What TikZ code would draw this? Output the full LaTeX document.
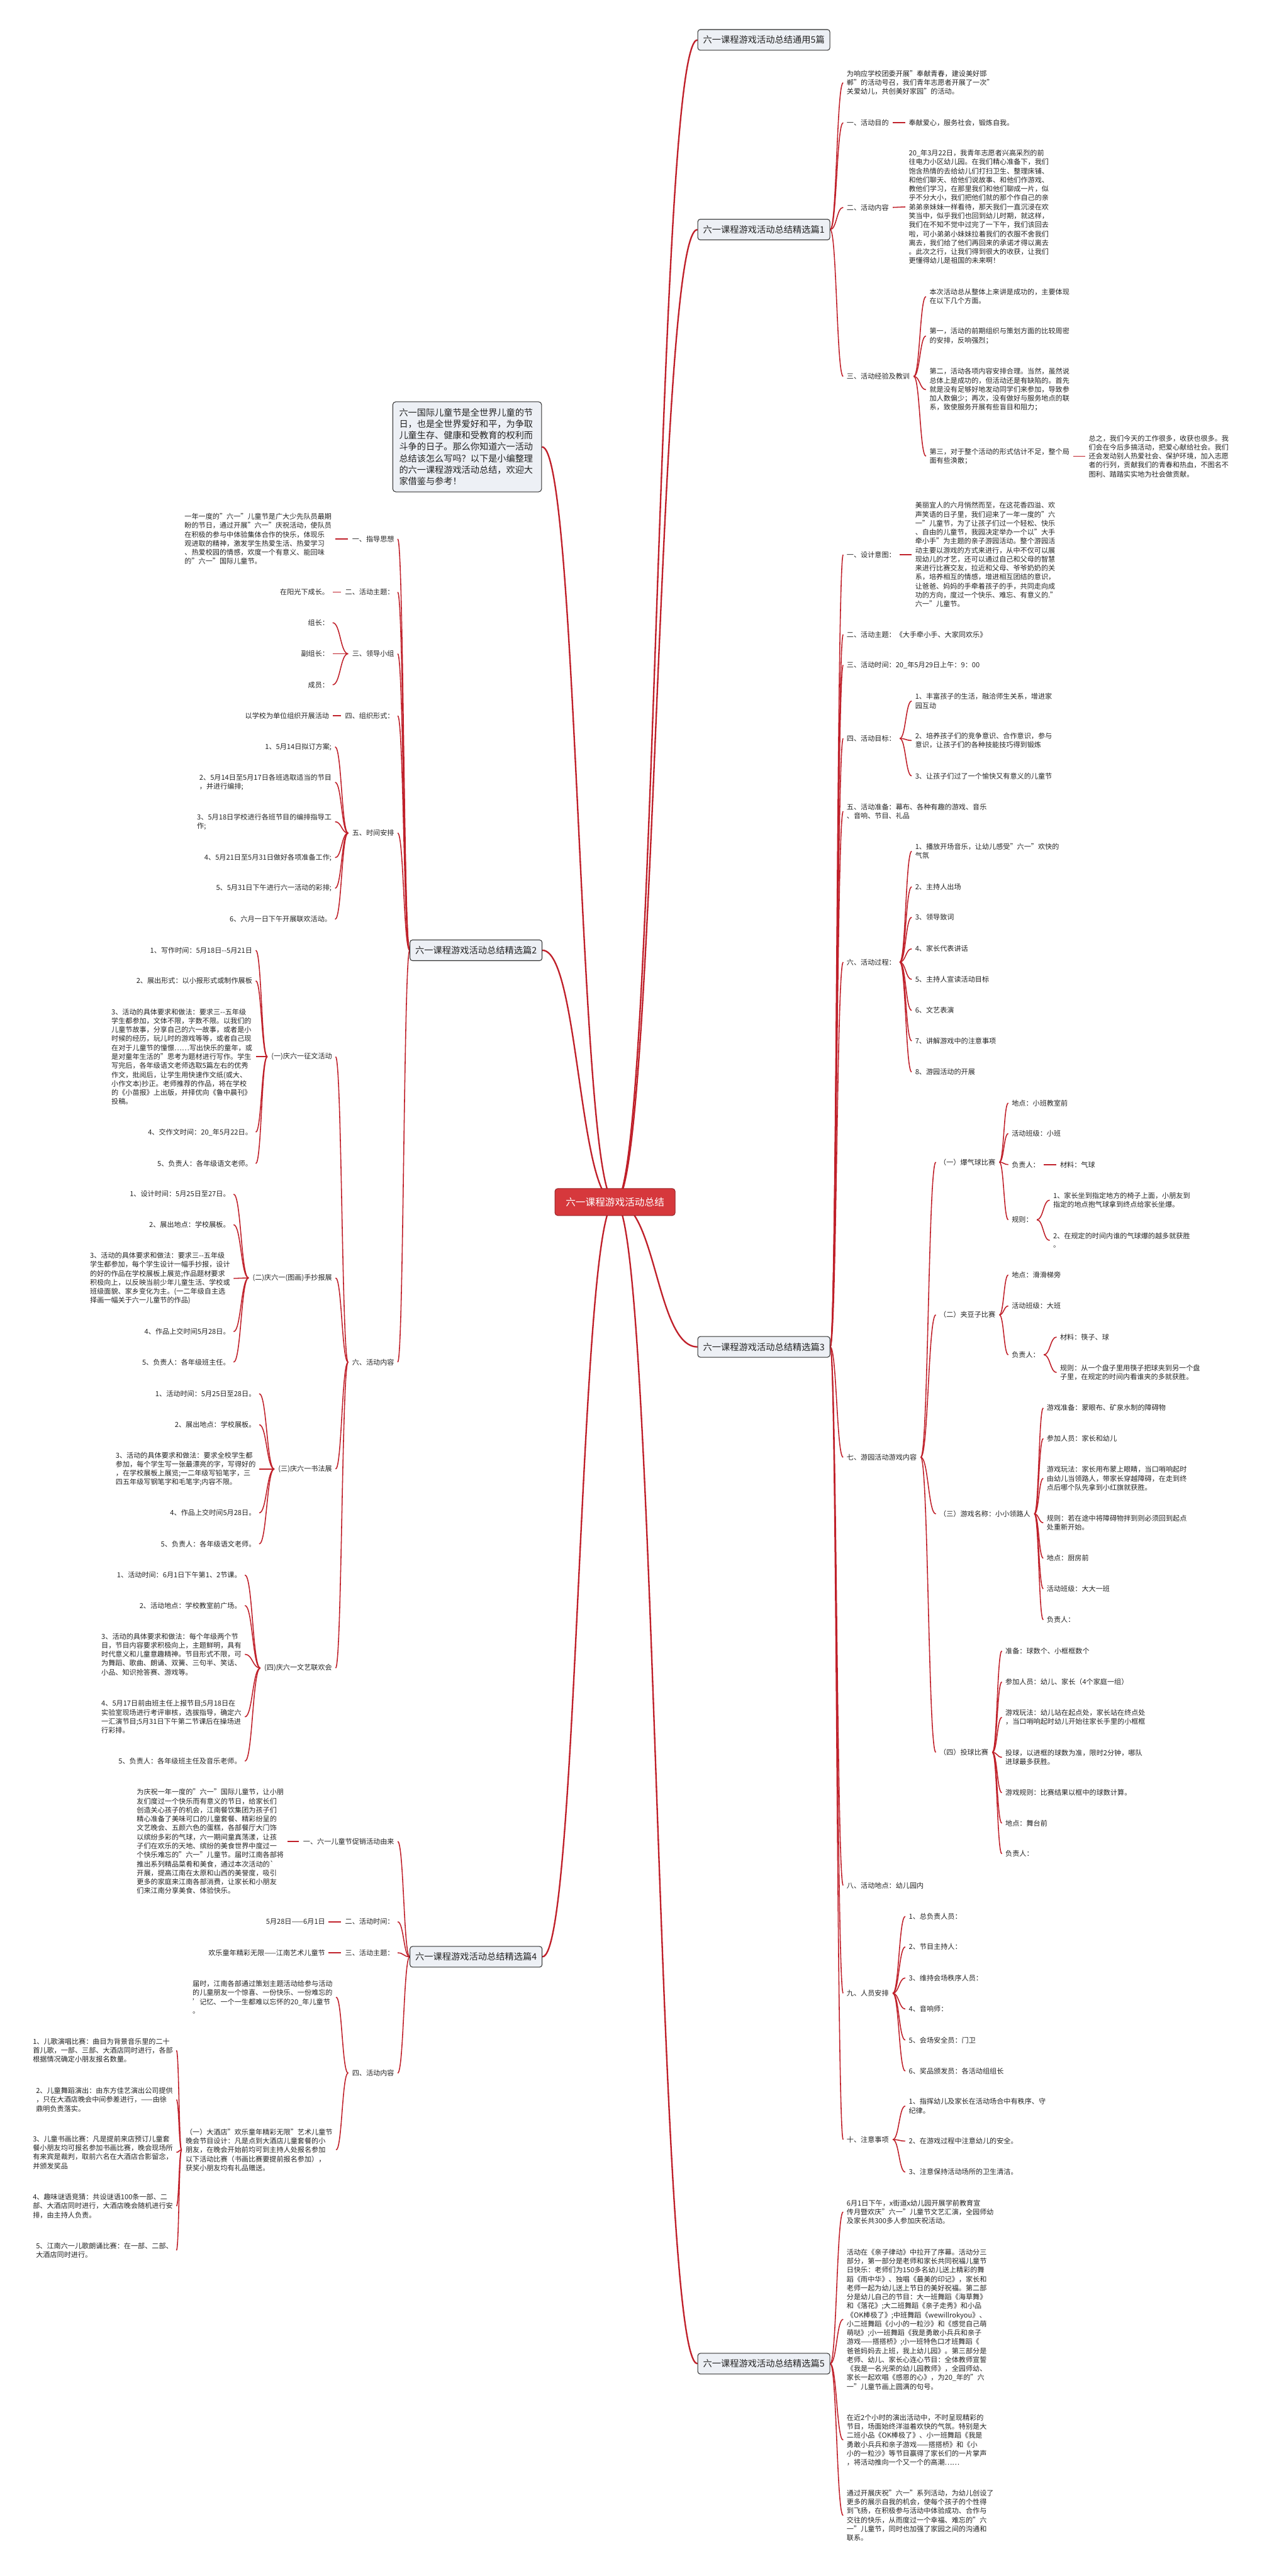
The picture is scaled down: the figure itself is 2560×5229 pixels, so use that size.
\documentclass[tikz,border=0pt]{standalone}
\usepackage{fontspec}
\setmainfont{Noto Sans CJK SC}
\usetikzlibrary{calc}
\pgfdeclarelayer{back}
\pgfdeclarelayer{bg}
\pgfsetlayers{back,bg,main}
\definecolor{lnk}{RGB}{192,32,42}
\definecolor{boxfill}{RGB}{237,240,245}
\definecolor{boxline}{RGB}{45,45,45}
\definecolor{cfill}{RGB}{214,56,60}
\definecolor{cline}{RGB}{150,35,40}
\definecolor{txt}{RGB}{35,35,35}
\tikzset{
 tx/.style={inner sep=0pt, anchor=west, align=left, font=\fontsize{14.2}{18.2}\selectfont, text=txt},
 txl/.style={tx, anchor=east},
 mainbox/.style={draw=boxline, fill=boxfill, rounded corners=5pt, line width=1.3pt, minimum width=268pt, minimum height=42pt, inner sep=0pt, font=\fontsize{18.2}{22}\selectfont, text=txt},
 centerbox/.style={draw=cline, fill=cfill, rounded corners=6pt, line width=1.3pt, minimum width=244pt, minimum height=55pt, inner sep=0pt, font=\fontsize{20}{24}\selectfont, text=white},
 introbox/.style={draw=boxline, fill=boxfill, rounded corners=6pt, line width=1.3pt, text width=276pt, inner xsep=13pt, inner ysep=13pt, align=left, font=\fontsize{18.1}{23.3}\selectfont, text=txt},
 conn/.style={draw=lnk, line width=2pt},
 mconn/.style={draw=lnk, line width=3pt},
}
\newcommand\linkR[3][8]{\path ($(#2.east)+(#1pt,0pt)$) coordinate (ls) ($(#3.west)+(-7pt,0pt)$) coordinate (lt);
 \draw[conn] (ls) .. controls ($(ls)!0.5!(ls -| lt)$) and ($(lt)!0.5!(lt -| ls)$) .. (lt);}
\newcommand\linkL[3][8]{\path ($(#2.west)+(-#1pt,0pt)$) coordinate (ls) ($(#3.east)+(7pt,0pt)$) coordinate (lt);
 \draw[conn] (ls) .. controls ($(ls)!0.5!(ls -| lt)$) and ($(lt)!0.5!(lt -| ls)$) .. (lt);}
\newcommand\linkM[2]{\path (#1.center) coordinate (ls) (#2) coordinate (lt);
 \draw[mconn] (ls) .. controls ($(ls)!0.5!(ls -| lt)$) and ($(lt)!0.5!(lt -| ls)$) .. (lt);}
\begin{document}
\begin{tikzpicture}[x=1pt,y=-1pt]
\begin{pgfonlayer}{back}
\fill[white] (0,0) rectangle (2560,5229);
\end{pgfonlayer}
\useasboundingbox (0,0) rectangle (2560,5229);
% ---------------- main nodes
\node[centerbox] (c) at (1248,2440) {六一课程游戏活动总结};
\node[introbox] (intro) at (948,907) {六一国际儿童节是全世界儿童的节\\日，也是全世界爱好和平，为争取\\儿童生存、健康和受教育的权利而\\斗争的日子。那么你知道六一活动\\总结该怎么写吗？以下是小编整理\\的六一课程游戏活动总结，欢迎大\\家借鉴与参考！};
\node[mainbox] (r1) at (1550,81) {六一课程游戏活动总结通用5篇};
\node[mainbox] (r2) at (1550,466) {六一课程游戏活动总结精选篇1};
\node[mainbox] (r3) at (1550,2734) {六一课程游戏活动总结精选篇3};
\node[mainbox] (r5) at (1550,4798) {六一课程游戏活动总结精选篇5};
\node[mainbox] (l2) at (966,1929) {六一课程游戏活动总结精选篇2};
\node[mainbox] (l4) at (966,3972) {六一课程游戏活动总结精选篇4};
% ---------------- 篇1
\node[tx] (a0) at (1718,168) {为响应学校团委开展"奉献青春，建设美好邯\\郸"的活动号召，我们青年志愿者开展了一次"\\关爱幼儿，共创美好家园"的活动。};
\node[tx] (a1) at (1718,249) {一、活动目的};
\node[tx] (a1a) at (1844,249) {奉献爱心，服务社会，锻炼自我。};
\node[tx] (a2) at (1718,421) {二、活动内容};
\node[tx] (a2a) at (1844,420) {20\_年3月22日，我青年志愿者兴高采烈的前\\往电力小区幼儿园。在我们精心准备下，我们\\饱含热情的去给幼儿们打扫卫生、整理床铺、\\和他们聊天、给他们说故事、和他们作游戏、\\教他们学习，在那里我们和他们聊成一片，似\\乎不分大小，我们把他们就的那个作自己的亲\\弟弟亲妹妹一样看待，那天我们一直沉浸在欢\\笑当中，似乎我们也回到幼儿时期，就这样，\\我们在不知不觉中过完了一下午，我们该回去\\啦，可小弟弟小妹妹拉着我们的衣服不舍我们\\离去，我们给了他们再回来的承诺才得以离去\\。此次之行，让我们得到很大的收获，让我们\\更懂得幼儿是祖国的未来啊！};
\node[tx] (a3) at (1718,764) {三、活动经验及教训};
\node[tx] (a3a) at (1886,602) {本次活动总从整体上来讲是成功的，主要体现\\在以下几个方面。};
\node[tx] (a3b) at (1886,682) {第一，活动的前期组织与策划方面的比较周密\\的安排，反响强烈；};
\node[tx] (a3c) at (1886,791) {第二，活动各项内容安排合理。当然，虽然说\\总体上是成功的，但活动还是有缺陷的。首先\\就是没有足够好地发动同学们来参加，导致参\\加人数偏少；再次，没有做好与服务地点的联\\系，致使服务开展有些盲目和阻力；};
\node[tx] (a3d) at (1886,926) {第三，对于整个活动的形式估计不足，整个局\\面有些涣散；};
\node[tx] (a3d1) at (2209,926) {总之，我们今天的工作很多，收获也很多。我\\们会在今后多搞活动，把爱心献给社会。我们\\还会发动别人热爱社会、保护环境，加入志愿\\者的行列，贡献我们的青春和热血，不图名不\\图利、踏踏实实地为社会做贡献。};
% ---------------- 篇3
\node[tx] (b1) at (1718,1126) {一、设计意图：};
\node[tx] (b1a) at (1857,1126) {美丽宜人的六月悄然而至，在这花香四溢、欢\\声笑语的日子里，我们迎来了一年一度的"六\\一"儿童节，为了让孩子们过一个轻松、快乐\\、自由的儿童节，我园决定举办一个以"大手\\牵小手"为主题的亲子游园活动。整个游园活\\动主要以游戏的方式来进行，从中不仅可以展\\现幼儿的才艺，还可以通过自己和父母的智慧\\来进行比赛交友，拉近和父母、爷爷奶奶的关\\系，培养相互的情感，增进相互团结的意识，\\让爸爸、妈妈的手牵着孩子的手，共同走向成\\功的方向，度过一个快乐、难忘、有意义的."\\六一"儿童节。};
\node[tx] (b2) at (1718,1288) {二、活动主题：《大手牵小手、大家同欢乐》};
\node[tx] (b3) at (1718,1350) {三、活动时间：20\_年5月29日上午：9：00};
\node[tx] (b4) at (1718,1499) {四、活动目标：};
\node[tx] (b4a) at (1857,1423) {1、丰富孩子的生活，融洽师生关系，增进家\\园互动};
\node[tx] (b4b) at (1857,1503) {2、培养孩子们的竞争意识、合作意识，参与\\意识，让孩子们的各种技能技巧得到锻炼};
\node[tx] (b4c) at (1857,1575) {3、让孩子们过了一个愉快又有意义的儿童节};
\node[tx] (b5) at (1718,1647) {五、活动准备：幕布、各种有趣的游戏、音乐\\、音响、节目、礼品};
\node[tx] (b6) at (1718,1953) {六、活动过程：};
\node[tx] (b6a) at (1857,1728) {1、播放开场音乐，让幼儿感受"六一"欢快的\\气氛};
\node[tx] (b6b) at (1857,1800) {2、主持人出场};
\node[tx] (b6c) at (1857,1862) {3、领导致词};
\node[tx] (b6d) at (1857,1926) {4、家长代表讲话};
\node[tx] (b6e) at (1857,1988) {5、主持人宣读活动目标};
\node[tx] (b6f) at (1857,2051) {6、文艺表演};
\node[tx] (b6g) at (1857,2113) {7、讲解游戏中的注意事项};
\node[tx] (b6h) at (1857,2176) {8、游园活动的开展};
\node[tx] (b7) at (1718,2958) {七、游园活动游戏内容};
\node[tx] (b7a) at (1906,2359) {（一）爆气球比赛};
\node[tx] (b7a1) at (2053,2239) {地点：小班教室前};
\node[tx] (b7a2) at (2053,2301) {活动班级：小班};
\node[tx] (b7a3) at (2053,2364) {负责人：};
\node[tx] (b7a3a) at (2151,2364) {材料：气球};
\node[tx] (b7a4) at (2053,2476) {规则：};
\node[tx] (b7a4a) at (2137,2436) {1、家长坐到指定地方的椅子上面，小朋友到\\指定的地点抱气球拿到终点给家长坐爆。};
\node[tx] (b7a4b) at (2137,2518) {2、在规定的时间内谁的气球爆的越多就获胜\\。};
\node[tx] (b7b) at (1906,2669) {（二）夹豆子比赛};
\node[tx] (b7b1) at (2053,2588) {地点：滑滑梯旁};
\node[tx] (b7b2) at (2053,2651) {活动班级：大班};
\node[tx] (b7b3) at (2053,2750) {负责人：};
\node[tx] (b7b3a) at (2151,2714) {材料：筷子、球};
\node[tx] (b7b3b) at (2151,2786) {规则：从一个盘子里用筷子把球夹到另一个盘\\子里，在规定的时间内看谁夹的多就获胜。};
\node[tx] (b7c) at (1906,3073) {（三）游戏名称：小小领路人};
\node[tx] (b7c1) at (2124,2858) {游戏准备：蒙眼布、矿泉水制的障碍物};
\node[tx] (b7c2) at (2124,2920) {参加人员：家长和幼儿};
\node[tx] (b7c3) at (2124,3001) {游戏玩法：家长用布蒙上眼睛，当口哨响起时\\由幼儿当领路人，带家长穿越障碍，在走到终\\点后哪个队先拿到小红旗就获胜。};
\node[tx] (b7c4) at (2124,3091) {规则：若在途中将障碍物拌到则必须回到起点\\处重新开始。};
\node[tx] (b7c5) at (2124,3163) {地点：厨房前};
\node[tx] (b7c6) at (2124,3225) {活动班级：大大一班};
\node[tx] (b7c7) at (2124,3288) {负责人：};
\node[tx] (b7d) at (1906,3557) {（四）投球比赛};
\node[tx] (b7d1) at (2040,3351) {准备：球数个、小框框数个};
\node[tx] (b7d2) at (2040,3414) {参加人员：幼儿、家长（4个家庭一组）};
\node[tx] (b7d3) at (2040,3486) {游戏玩法：幼儿站在起点处，家长站在终点处\\，当口哨响起时幼儿开始往家长手里的小框框};
\node[tx] (b7d4) at (2040,3567) {投球，以进框的球数为准，限时2分钟，哪队\\进球最多获胜。};
\node[tx] (b7d5) at (2040,3639) {游戏规则：比赛结果以框中的球数计算。};
\node[tx] (b7d6) at (2040,3701) {地点：舞台前};
\node[tx] (b7d7) at (2040,3763) {负责人：};
\node[tx] (b8) at (1718,3827) {八、活动地点：幼儿园内};
\node[tx] (b9) at (1718,4046) {九、人员安排};
\node[tx] (b9a) at (1844,3890) {1、总负责人员：};
\node[tx] (b9b) at (1844,3952) {2、节目主持人：};
\node[tx] (b9c) at (1844,4015) {3、维持会场秩序人员：};
\node[tx] (b9d) at (1844,4078) {4、音响师：};
\node[tx] (b9e) at (1844,4141) {5、会场安全员：门卫};
\node[tx] (b9f) at (1844,4204) {6、奖品颁发员：各活动组组长};
\node[tx] (b10) at (1718,4343) {十、注意事项};
\node[tx] (b10a) at (1844,4275) {1、指挥幼儿及家长在活动场合中有秩序、守\\纪律。};
\node[tx] (b10b) at (1844,4346) {2、在游戏过程中注意幼儿的安全。};
\node[tx] (b10c) at (1844,4409) {3、注意保持活动场所的卫生清洁。};
% ---------------- 篇5
\node[tx] (e1) at (1718,4490) {6月1日下午，x街道x幼儿园开展学前教育宣\\传月暨欢庆"六一"儿童节文艺汇演，全园师幼\\及家长共300多人参加庆祝活动。};
\node[tx] (e2) at (1718,4708) {活动在《亲子律动》中拉开了序幕。活动分三\\部分，第一部分是老师和家长共同祝福儿童节\\日快乐：老师们为150多名幼儿送上精彩的舞\\蹈《雨中华》、独唱《最美的印记》，家长和\\老师一起为幼儿送上节日的美好祝福。第二部\\分是幼儿自己的节目：大一班舞蹈《海草舞》\\和《落花》;大二班舞蹈《亲子走秀》和小品\\《OK棒极了》;中班舞蹈《wewillrokyou》、\\小二班舞蹈《小小的一粒沙》和《感觉自己萌\\萌哒》;小一班舞蹈《我是勇敢小兵兵和亲子\\游戏——搭搭桥》;小一班特色口才班舞蹈《\\爸爸妈妈去上班，我上幼儿园》。第三部分是\\老师、幼儿、家长心连心节目：全体教师宣誓\\《我是一名光荣的幼儿园教师》，全园师幼、\\家长一起欢唱《感恩的心》，为20\_年的"六\\一"儿童节画上圆满的句号。};
\node[tx] (e3) at (1718,4953) {在近2个小时的演出活动中，不时呈现精彩的\\节目，场面始终洋溢着欢快的气氛。特别是大\\二班小品《OK棒极了》、小一班舞蹈《我是\\勇敢小兵兵和亲子游戏——搭搭桥》和《小\\小的一粒沙》等节目赢得了家长们的一片掌声\\，将活动推向一个又一个的高潮……};
\node[tx] (e4) at (1718,5106) {通过开展庆祝"六一"系列活动，为幼儿创设了\\更多的展示自我的机会，使每个孩子的个性得\\到飞扬，在积极参与活动中体验成功、合作与\\交往的快乐，从而度过一个幸福、难忘的"六\\一"儿童节，同时也加强了家园之间的沟通和\\联系。};
% ---------------- 篇2
\node[txl] (f1) at (800,1094) {一、指导思想};
\node[txl] (f1a) at (673,1094) {一年一度的"六一"儿童节是广大少先队员最期\\盼的节日，通过开展"六一"庆祝活动，使队员\\在积极的参与中体验集体合作的快乐，体现乐\\观进取的精神，激发学生热爱生活、热爱学习\\、热爱校园的情感，欢度一个有意义、能回味\\的"六一"国际儿童节。};
\node[txl] (f2) at (800,1202) {二、活动主题：};
\node[txl] (f2a) at (668,1202) {在阳光下成长。};
\node[txl] (f3) at (800,1327) {三、领导小组};
\node[txl] (f3a) at (668,1264) {组长：};
\node[txl] (f3b) at (668,1327) {副组长：};
\node[txl] (f3c) at (668,1390) {成员：};
\node[txl] (f4) at (800,1453) {四、组织形式：};
\node[txl] (f4a) at (668,1453) {以学校为单位组织开展活动};
\node[txl] (f5) at (800,1691) {五、时间安排};
\node[txl] (f5a) at (673,1516) {1、5月14日拟订方案;};
\node[txl] (f5b) at (673,1588) {2、5月14日至5月17日各班选取适当的节目\\，并进行编排;};
\node[txl] (f5c) at (673,1668) {3、5月18日学校进行各班节目的编排指导工\\作;};
\node[txl] (f5d) at (673,1741) {4、5月21日至5月31日做好各项准备工作;};
\node[txl] (f5e) at (673,1803) {5、5月31日下午进行六一活动的彩排;};
\node[txl] (f5f) at (673,1866) {6、六月一日下午开展联欢活动。};
\node[txl] (f6) at (800,2765) {六、活动内容};
\node[txl] (g1) at (674,2145) {(一)庆六一征文活动};
\node[txl] (g1a) at (512,1929) {1、写作时间：5月18日-{}-5月21日};
\node[txl] (g1b) at (512,1991) {2、展出形式：以小报形式或制作展板};
\node[txl] (g1c) at (512,2145) {3、活动的具体要求和做法：要求三-{}-五年级\\学生都参加，文体不限，字数不限。以我们的\\儿童节故事，分享自己的六一故事，或者是小\\时候的经历，玩儿时的游戏等等，或者自己现\\在对于儿童节的憧憬……写出快乐的童年，或\\是对童年生活的"思考为题材进行写作。学生\\写完后，各年级语文老师选取5篇左右的优秀\\作文，批阅后，让学生用快速作文纸(或大、\\小作文本)抄正。老师推荐的作品，将在学校\\的《小苗报》上出版，并择优向《鲁中晨刊》\\投稿。};
\node[txl] (g1d) at (512,2298) {4、交作文时间：20\_年5月22日。};
\node[txl] (g1e) at (512,2362) {5、负责人：各年级语文老师。};
\node[txl] (g2) at (674,2594) {(二)庆六一(图画)手抄报展};
\node[txl] (g2a) at (467,2424) {1、设计时间：5月25日至27日。};
\node[txl] (g2b) at (467,2486) {2、展出地点：学校展板。};
\node[txl] (g2c) at (467,2595) {3、活动的具体要求和做法：要求三-{}-五年级\\学生都参加，每个学生设计一幅手抄报，设计\\的好的作品在学校展板上展览;作品题材要求\\积极向上，以反映当前少年儿童生活、学校或\\班级面貌、家乡变化为主。(一二年级自主选\\择画一幅关于六一儿童节的作品)};
\node[txl] (g2d) at (467,2703) {4、作品上交时间5月28日。};
\node[txl] (g2e) at (467,2765) {5、负责人：各年级班主任。};
\node[txl] (g3) at (674,2982) {(三)庆六一书法展};
\node[txl] (g3a) at (519,2829) {1、活动时间：5月25日至28日。};
\node[txl] (g3b) at (519,2892) {2、展出地点：学校展板。};
\node[txl] (g3c) at (519,2982) {3、活动的具体要求和做法：要求全校学生都\\参加，每个学生写一张最漂亮的字，写得好的\\，在学校展板上展览;一二年级写铅笔字，三\\四五年级写钢笔字和毛笔字;内容不限。};
\node[txl] (g3d) at (519,3071) {4、作品上交时间5月28日。};
\node[txl] (g3e) at (519,3134) {5、负责人：各年级语文老师。};
\node[txl] (g4) at (674,3386) {(四)庆六一文艺联欢会};
\node[txl] (g4a) at (490,3197) {1、活动时间：6月1日下午第1、2节课。};
\node[txl] (g4b) at (490,3259) {2、活动地点：学校教室前广场。};
\node[txl] (g4c) at (490,3358) {3、活动的具体要求和做法：每个年级两个节\\目，节目内容要求积极向上，主题鲜明，具有\\时代意义和儿童意趣精神。节目形式不限，可\\为舞蹈、歌曲、朗诵、双簧、三句半、笑话、\\小品、知识抢答赛、游戏等。};
\node[txl] (g4d) at (490,3485) {4、5月17日前由班主任上报节目;5月18日在\\实验室现场进行考评审核，选拔指导，确定六\\一汇演节目;5月31日下午第二节课后在操场进\\行彩排。};
\node[txl] (g4e) at (490,3575) {5、负责人：各年级班主任及音乐老师。};
% ---------------- 篇4
\node[txl] (h1) at (800,3738) {一、六一儿童节促销活动由来};
\node[txl] (h1a) at (576,3738) {为庆祝一年一度的"六一"国际儿童节，让小朋\\友们度过一个快乐而有意义的节日，给家长们\\创造关心孩子的机会，江南餐饮集团为孩子们\\精心准备了美味可口的儿童套餐、精彩纷呈的\\文艺晚会、五颜六色的蛋糕，各部餐厅大门饰\\以缤纷多彩的气球，六一期间童真荡漾，让孩\\子们在欢乐的天地、缤纷的美食世界中度过一\\个快乐难忘的"六一"儿童节。届时江南各部将\\推出系列精品菜肴和美食，通过本次活动的\textasciigrave\\开展，提高江南在太原和山西的美誉度，吸引\\更多的家庭来江南各部消费，让家长和小朋友\\们来江南分享美食、体验快乐。};
\node[txl] (h2) at (800,3901) {二、活动时间：};
\node[txl] (h2a) at (660,3901) {5月28日——6月1日};
\node[txl] (h3) at (800,3964) {三、活动主题：};
\node[txl] (h3a) at (660,3964) {欢乐童年精彩无限——江南艺术儿童节};
\node[txl] (h4) at (800,4208) {四、活动内容};
\node[txl] (h4a) at (675,4054) {届时，江南各部通过策划主题活动给参与活动\\的儿童朋友一个惊喜、一份快乐、一份难忘的\\'记忆、一个一生都难以忘怀的20\_年儿童节\\。};
\node[txl] (h4b) at (675,4364) {（一）大酒店"欢乐童年精彩无限"艺术儿童节\\晚会节目设计：凡是点到大酒店儿童套餐的小\\朋友，在晚会开始前均可到主持人处报名参加\\以下活动比赛（书画比赛要提前报名参加），\\获奖小朋友均有礼品赠送。};
\node[txl] (h4b1) at (351,4162) {1、儿歌演唱比赛：曲目为背景音乐里的二十\\首儿歌，一部、三部、大酒店同时进行，各部\\根据情况确定小朋友报名数量。};
\node[txl] (h4b2) at (351,4262) {2、儿童舞蹈演出：由东方佳艺演出公司提供\\，只在大酒店晚会中间参差进行，——由徐\\鼎明负责落实。};
\node[txl] (h4b3) at (351,4369) {3、儿童书画比赛：凡是提前来店预订儿童套\\餐小朋友均可报名参加书画比赛，晚会现场所\\有来宾是裁判，取前六名在大酒店合影留念，\\并颁发奖品};
\node[txl] (h4b4) at (351,4478) {4、趣味谜语竞猜：共设谜语100条一部、二\\部、大酒店同时进行，大酒店晚会随机进行安\\排，由主持人负责。};
\node[txl] (h4b5) at (351,4568) {5、江南六一儿歌朗诵比赛：在一部、二部、\\大酒店同时进行。};
% ---------------- connectors
\begin{pgfonlayer}{bg}
\linkM{c}{intro.east}
\linkM{c}{r1.west}\linkM{c}{r2.west}\linkM{c}{r3.west}\linkM{c}{r5.west}
\linkM{c}{l2.east}\linkM{c}{l4.east}
% 篇1
\linkR[0]{r2}{a0}\linkR[0]{r2}{a1}\linkR[0]{r2}{a2}\linkR[0]{r2}{a3}
\linkR{a1}{a1a}\linkR{a2}{a2a}
\linkR{a3}{a3a}\linkR{a3}{a3b}\linkR{a3}{a3c}\linkR{a3}{a3d}\linkR{a3d}{a3d1}
% 篇3
\foreach \n in {b1,b2,b3,b4,b5,b6,b7,b8,b9,b10}{\linkR[0]{r3}{\n}}
\linkR{b1}{b1a}
\foreach \n in {b4a,b4b,b4c}{\linkR{b4}{\n}}
\foreach \n in {b6a,b6b,b6c,b6d,b6e,b6f,b6g,b6h}{\linkR{b6}{\n}}
\foreach \n in {b7a,b7b,b7c,b7d}{\linkR{b7}{\n}}
\foreach \n in {b7a1,b7a2,b7a3,b7a4}{\linkR{b7a}{\n}}
\linkR{b7a3}{b7a3a}\linkR{b7a4}{b7a4a}\linkR{b7a4}{b7a4b}
\foreach \n in {b7b1,b7b2,b7b3}{\linkR{b7b}{\n}}
\linkR{b7b3}{b7b3a}\linkR{b7b3}{b7b3b}
\foreach \n in {b7c1,b7c2,b7c3,b7c4,b7c5,b7c6,b7c7}{\linkR{b7c}{\n}}
\foreach \n in {b7d1,b7d2,b7d3,b7d4,b7d5,b7d6,b7d7}{\linkR{b7d}{\n}}
\foreach \n in {b9a,b9b,b9c,b9d,b9e,b9f}{\linkR{b9}{\n}}
\foreach \n in {b10a,b10b,b10c}{\linkR{b10}{\n}}
% 篇5
\foreach \n in {e1,e2,e3,e4}{\linkR[0]{r5}{\n}}
% 篇2
\foreach \n in {f1,f2,f3,f4,f5,f6}{\linkL[0]{l2}{\n}}
\linkL{f1}{f1a}\linkL{f2}{f2a}\linkL{f4}{f4a}
\foreach \n in {f3a,f3b,f3c}{\linkL{f3}{\n}}
\foreach \n in {f5a,f5b,f5c,f5d,f5e,f5f}{\linkL{f5}{\n}}
\foreach \n in {g1,g2,g3,g4}{\linkL{f6}{\n}}
\foreach \n in {g1a,g1b,g1c,g1d,g1e}{\linkL{g1}{\n}}
\foreach \n in {g2a,g2b,g2c,g2d,g2e}{\linkL{g2}{\n}}
\foreach \n in {g3a,g3b,g3c,g3d,g3e}{\linkL{g3}{\n}}
\foreach \n in {g4a,g4b,g4c,g4d,g4e}{\linkL{g4}{\n}}
% 篇4
\foreach \n in {h1,h2,h3,h4}{\linkL[0]{l4}{\n}}
\linkL{h1}{h1a}\linkL{h2}{h2a}\linkL{h3}{h3a}
\linkL{h4}{h4a}\linkL{h4}{h4b}
\foreach \n in {h4b1,h4b2,h4b3,h4b4,h4b5}{\linkL{h4b}{\n}}
\end{pgfonlayer}
\end{tikzpicture}
\end{document}
